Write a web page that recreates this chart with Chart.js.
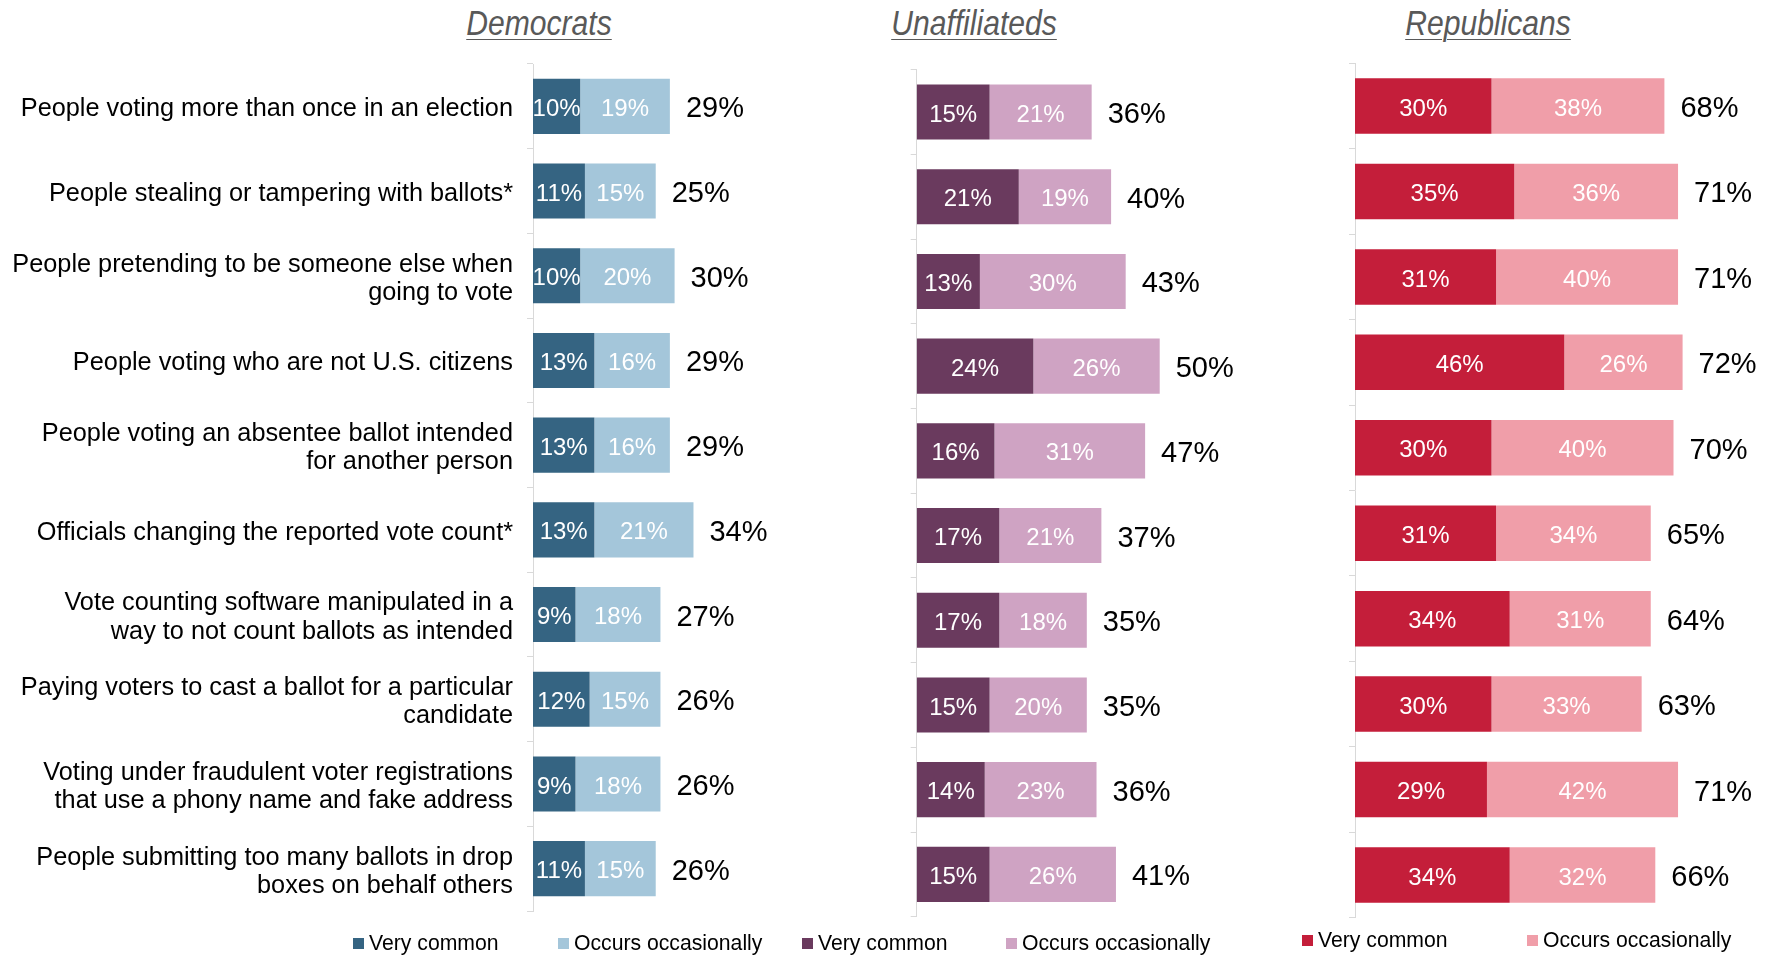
<!DOCTYPE html>
<html>
<head>
<meta charset="utf-8">
<script src="https://cdn.jsdelivr.net/npm/chart.js@4.4.0/dist/chart.umd.min.js"></script>
<style>
  body { margin: 0; width: 1767px; height: 955px; background: #fff; position: relative; overflow: hidden;
         font-family: "Liberation Sans", Arial, sans-serif; }
  canvas { position: absolute; top: 0; }
  .title { position: absolute; top: 3px; transform: translateX(-50%) scaleX(0.86); white-space: nowrap;
           font-family: "Liberation Sans", sans-serif; font-style: italic;
           font-size: 35px; line-height: 40px; color: #595959; text-decoration: underline;
           text-decoration-thickness: 1px; text-underline-offset: 4px; }
  .legend-item { position: absolute; font-size: 21.2px; line-height: 24px; color: #000; white-space: nowrap; }
  .legend-item i { display: inline-block; width: 11px; height: 11px; margin-right: 5px; vertical-align: 1px; }
</style>
</head>
<body>
<div class="title" style="left:539px">Democrats</div>
<div class="title" style="left:974px">Unaffiliateds</div>
<div class="title" style="left:1488px">Republicans</div>

<canvas id="dem" width="820" height="955" style="left:0px"></canvas>
<canvas id="una" width="440" height="955" style="left:840px"></canvas>
<canvas id="rep" width="477" height="955" style="left:1290px"></canvas>

<script>
"use strict";

//-------------- data ---------------------------------------------
const categories = [
  "People voting more than once in an election",
  "People stealing or tampering with ballots*",
  ["People pretending to be someone else when", "going to vote"],
  "People voting who are not U.S. citizens",
  ["People voting an absentee ballot intended", "for another person"],
  "Officials changing the reported vote count*",
  ["Vote counting software manipulated in a", "way to not count ballots as intended"],
  ["Paying voters to cast a ballot for a particular", "candidate"],
  ["Voting under fraudulent voter registrations", "that use a phony name and fake address"],
  ["People submitting too many ballots in drop", "boxes on behalf others"]
];
const seriesNames = ["Very common", "Occurs occasionally"];

const demCommon = [10, 11, 10, 13, 13, 13, 9, 12, 9, 11];
const demOccasional = [19, 15, 20, 16, 16, 21, 18, 15, 18, 15];
const demTotal = [29, 25, 30, 29, 29, 34, 27, 26, 26, 26];

const unaCommon = [15, 21, 13, 24, 16, 17, 17, 15, 14, 15];
const unaOccasional = [21, 19, 30, 26, 31, 21, 18, 20, 23, 26];
const unaTotal = [36, 40, 43, 50, 47, 37, 35, 35, 36, 41];

const repCommon = [30, 35, 31, 46, 30, 31, 34, 30, 29, 34];
const repOccasional = [38, 36, 40, 26, 40, 34, 31, 33, 42, 32];
const repTotal = [68, 71, 71, 72, 70, 65, 64, 63, 71, 66];

//-------------- label plugin ---------------------------------------------
// writes the segment values inside the bars and the total after each bar
const barText = {
  id: "barText",
  afterDatasetsDraw(chart, args, opts) {
    const ctx = chart.ctx;
    ctx.save();
    ctx.textBaseline = "middle";
    chart.data.datasets.forEach((ds, i) => {
      chart.getDatasetMeta(i).data.forEach((bar, j) => {
        ctx.fillStyle = "#fff";
        ctx.textAlign = "center";
        ctx.font = "24px 'Liberation Sans', Arial, sans-serif";
        ctx.fillText(ds.data[j] + "%", (bar.x + bar.base) / 2, bar.y + 3);
        if (i === chart.data.datasets.length - 1) {
          ctx.fillStyle = "#000";
          ctx.textAlign = "left";
          ctx.font = "29px 'Liberation Sans', Arial, sans-serif";
          ctx.fillText(opts.totals[j] + "%", bar.x + 16, bar.y + 3);
        }
      });
    });
    ctx.restore();
  }
};

//-------------- chart builder ---------------------------------------------
function makeChart(id, cfg) {
  return new Chart(document.getElementById(id), {
    type: "bar",
    data: {
      labels: categories,
      datasets: [
        { label: seriesNames[0], data: cfg.common, backgroundColor: cfg.colors[0],
          barPercentage: 0.65, categoryPercentage: 1 },
        { label: seriesNames[1], data: cfg.occasional, backgroundColor: cfg.colors[1],
          barPercentage: 0.65, categoryPercentage: 1 }
      ]
    },
    options: {
      indexAxis: "y",
      responsive: false,
      animation: false,
      layout: { padding: cfg.padding },
      plugins: {
        legend: { display: false },
        tooltip: { enabled: false },
        barText: { totals: cfg.totals }
      },
      scales: {
        x: { stacked: true, display: false, min: 0, max: cfg.max },
        y: {
          stacked: true,
          grid: { offset: true, drawOnChartArea: false, tickLength: 6, color: "#d9d9d9" },
          border: { color: "#d9d9d9", width: 1 },
          ticks: {
            display: cfg.showLabels,
            autoSkip: false,
            padding: 14,
            labelOffset: 3,
            color: "#000",
            font: { family: "'Liberation Sans', Arial, sans-serif", size: 25.3, lineHeight: 1.11 }
          },
          afterFit: (scale) => { scale.width = cfg.axisWidth; }
        }
      }
    },
    plugins: [barText]
  });
}

let demChart = makeChart("dem", {
  common: demCommon, occasional: demOccasional, totals: demTotal,
  colors: ["#356482", "#a4c6da"], max: 55, axisWidth: 533, showLabels: true,
  padding: { top: 64, bottom: 44, left: 0, right: 27.4 }
});
let unaChart = makeChart("una", {
  common: unaCommon, occasional: unaOccasional, totals: unaTotal,
  colors: ["#6a3a5e", "#cfa3c3"], max: 60, axisWidth: 76.7, showLabels: false,
  padding: { top: 69.7, bottom: 38.3, left: 0, right: 71.7 }
});
let repChart = makeChart("rep", {
  common: repCommon, occasional: repOccasional, totals: repTotal,
  colors: ["#c41e3a", "#f09ea9"], max: 80, axisWidth: 65, showLabels: false,
  padding: { top: 63.3, bottom: 37.3, left: 0, right: 48 }
});

//-------------- html legends ---------------------------------------------
// built from each chart's datasets, placed under the matching panel
function appendLegend(chart, xs, y) {
  chart.data.datasets.forEach((ds, i) => {
    let item = document.createElement("div");
    item.className = "legend-item";
    item.style.left = xs[i] + "px";
    item.style.top = y + "px";
    item.innerHTML = `<i style="background:${ds.backgroundColor}"></i>${ds.label}`;
    document.body.appendChild(item);
  });
}
appendLegend(demChart, [353, 558], 931);
appendLegend(unaChart, [802, 1006], 931);
appendLegend(repChart, [1302, 1527], 928);
</script>
</body>
</html>
